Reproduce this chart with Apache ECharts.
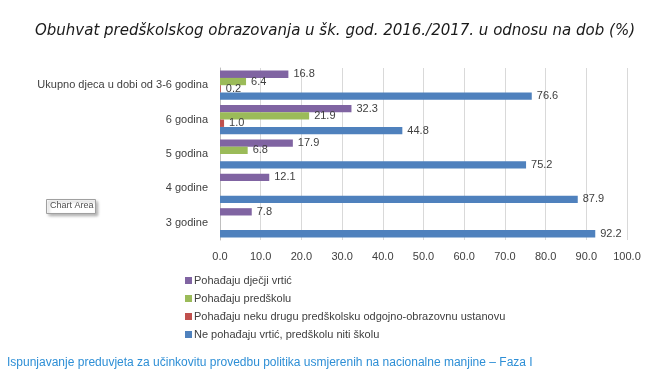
<!DOCTYPE html>
<html>
<head>
<meta charset="utf-8">
<script src="https://cdn.jsdelivr.net/npm/echarts@6/dist/echarts.min.js"></script>
<style>
    html, body { margin: 0; padding: 0; background: #fff; }
    #chart { width: 670px; height: 377px; }
</style>
</head>
<body>
<div id="chart"></div>
<script>
    // kategorije odozdo prema gore
    var categories = ['3 godine', '4 godine', '5 godina', '6 godina', 'Ukupno djeca u dobi od 3-6 godina'];
    var seriesNames = [
        'Pohađaju dječji vrtić',
        'Pohađaju predškolu',
        'Pohađaju neku drugu predškolsku odgojno-obrazovnu ustanovu',
        'Ne pohađaju vrtić, predškolu niti školu'
    ];
    var vrtic = [7.8, 12.1, 17.9, 32.3, 16.8];
    var predskola = [null, null, 6.8, 21.9, 6.4];
    var drugo = [null, null, null, 1.0, 0.2];
    var nePohadaju = [92.2, 87.9, 75.2, 44.8, 76.6];
    var colors = ['#8064a2', '#9bbb59', '#c0504d', '#4f81bd'];

    var myChart = echarts.init(document.getElementById('chart'));

    function makeSeries(name, data, color){
        return {
            name: name,
            type: 'bar',
            data: data,
            barGap: 0,
            barCategoryGap: '15%',
            itemStyle: { color: color },
            label: {
                show: true,
                position: 'right',
                distance: 5,
                fontFamily: '"Liberation Sans", sans-serif',
                fontSize: 11,
                color: '#404040',
                formatter: function(p){ return p.value == null ? '' : p.value.toFixed(1); }
            }
        };
    }

    var option = {
        animation: false,
        textStyle: { fontFamily: '"Liberation Sans", sans-serif' },
        title: {
            text: 'Obuhvat predškolskog obrazovanja u šk. god. 2016./2017. u odnosu na dob (%)',
            left: 'center',
            top: 19,
            textStyle: {
                fontFamily: '"DejaVu Sans", sans-serif',
                fontStyle: 'italic',
                fontWeight: 'normal',
                fontSize: 15,
                color: '#1a1a1a'
            }
        },
        legend: {
            orient: 'vertical',
            left: 180,
            top: 270,
            itemWidth: 7,
            itemHeight: 7,
            itemGap: 7,
            icon: 'rect',
            data: seriesNames,
            textStyle: { fontSize: 11, color: '#404040', padding: [0, 0, 0, -3] }
        },
        grid: {
            left: 220,
            right: 43,
            top: 68,
            bottom: 137
        },
        xAxis: {
            type: 'value',
            min: 0,
            max: 100,
            interval: 10,
            axisLine: { show: false },
            axisTick: { show: false },
            axisLabel: {
                fontSize: 11,
                color: '#404040',
                margin: 11,
                formatter: function(v){ return v.toFixed(1); }
            },
            splitLine: { lineStyle: { color: '#d9d9d9' } }
        },
        yAxis: {
            type: 'category',
            data: categories,
            axisLine: { show: true, lineStyle: { color: '#bfbfbf' } },
            axisTick: { show: false },
            axisLabel: { fontSize: 11, color: '#404040', margin: 12 }
        },
        series: [
            makeSeries(seriesNames[0], vrtic, colors[0]),
            makeSeries(seriesNames[1], predskola, colors[1]),
            makeSeries(seriesNames[2], drugo, colors[2]),
            makeSeries(seriesNames[3], nePohadaju, colors[3])
        ],
        graphic: [
            {
                type: 'rect',
                left: 46, top: 199,
                shape: { width: 49, height: 14 },
                style: { fill: '#fff', stroke: '#a0a0a0', lineWidth: 1, shadowBlur: 3, shadowOffsetX: 2, shadowOffsetY: 2, shadowColor: 'rgba(0,0,0,0.3)' }
            },
            {
                type: 'text',
                left: 50, top: 201,
                style: { text: 'Chart Area', fontSize: 9, fill: '#505050', fontFamily: '"Liberation Sans", sans-serif' }
            },
            {
                type: 'text',
                left: 7, top: 357,
                style: {
                    text: 'Ispunjavanje preduvjeta za učinkovitu provedbu politika usmjerenih na nacionalne manjine – Faza I',
                    fontSize: 12,
                    fill: '#2e8fd6',
                    fontFamily: '"Liberation Sans", sans-serif'
                }
            }
        ]
    };

    myChart.setOption(option);
</script>
</body>
</html>
